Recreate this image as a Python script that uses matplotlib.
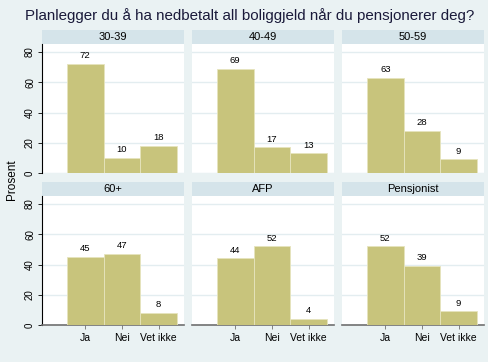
import numpy as np
import matplotlib
matplotlib.use("Agg")
import matplotlib.pyplot as plt

plt.rcParams['font.family'] = ['Liberation Sans', 'DejaVu Sans']

# data
groups = ["30-39", "40-49", "50-59", "60+", "AFP", "Pensjonist"]
answers = ["Ja", "Nei", "Vet ikke"]
pct_3039 = [72, 10, 18]
pct_4049 = [69, 17, 13]
pct_5059 = [63, 28, 9]
pct_60 = [45, 47, 8]
pct_afp = [44, 52, 4]
pct_pens = [52, 39, 9]
values = [pct_3039, pct_4049, pct_5059, pct_60, pct_afp, pct_pens]
yticks = [0, 20, 40, 60, 80]

bg = '#EAF2F3'
strip_col = '#D5E4EA'
bar_col = '#C8C47C'
grid_col = '#E3EDF0'
text_col = '#1A1A3A'

W, H = 488, 362
fig = plt.figure(figsize=(W/100, H/100), dpi=100)
fig.patch.set_facecolor(bg)

def px(x0, y0, w, h):
	return [x0/W, 1 - (y0+h)/H, w/W, h/H]

col_x = [42, 192, 342]
pw = 142
rows = [(30, 44, 129), (182, 196, 129)]  # strip top, plot top, plot height

fig.text(250/W, 1-16/H, "Planlegger du å ha nedbetalt all boliggjeld når du pensjonerer deg?",
	ha='center', va='center', fontsize=10.9, color=text_col)
fig.text(12/W, 1-180/H, "Prosent", rotation=90, ha='center', va='center', fontsize=8.5, color='black')

for i, (g, vals) in enumerate(zip(groups, values)):
	r, c = divmod(i, 3)
	st, pt, ph = rows[r]
	x0 = col_x[c]

	# strip
	sax = fig.add_axes(px(x0, st, pw, pt-st))
	sax.set_facecolor(strip_col)
	sax.set_xticks([]); sax.set_yticks([])
	for s in sax.spines.values():
		s.set_visible(False)
	sax.text(0.5, 0.5, g, ha='center', va='center', fontsize=8, color='black', transform=sax.transAxes)

	ax = fig.add_axes(px(x0, pt, pw, ph))
	ax.set_facecolor('white')
	pos = np.arange(1, len(answers)+1)
	ax.bar(pos, vals, width=1.0, color=bar_col, edgecolor='#E6E4BE', linewidth=0.6, zorder=3)
	for p, v in zip(pos, vals):
		ax.text(p, v + 2.5, str(v), ha='center', va='bottom', fontsize=6.8, color='black')
	ax.set_ylim(0, 85.3)
	ax.set_xlim(-0.18, 3.69)
	ax.set_yticks(yticks)
	ax.grid(axis='y', color=grid_col, linewidth=1.0, zorder=0)
	for s in ['top', 'right']:
		ax.spines[s].set_visible(False)
	if c == 0:
		ax.spines['left'].set_color('black')
		ax.spines['left'].set_linewidth(0.8)
		ax.tick_params(axis='y', length=3, width=0.6, labelsize=7, pad=2)
		for lab in ax.get_yticklabels():
			lab.set_rotation(90)
			lab.set_va('center')
	else:
		ax.spines['left'].set_visible(False)
		ax.tick_params(axis='y', length=0, labelleft=False)
	if r == 1:
		ax.spines['bottom'].set_color('#707070')
		ax.spines['bottom'].set_linewidth(1.2)
		ax.set_xticks(pos)
		ax.set_xticklabels(answers, fontsize=7.5)
		ax.tick_params(axis='x', length=3, width=0.6, color='#707070', pad=3)
	else:
		ax.spines['bottom'].set_visible(False)
		ax.set_xticks([])

fig.savefig("out.png", dpi=100, facecolor=bg)
